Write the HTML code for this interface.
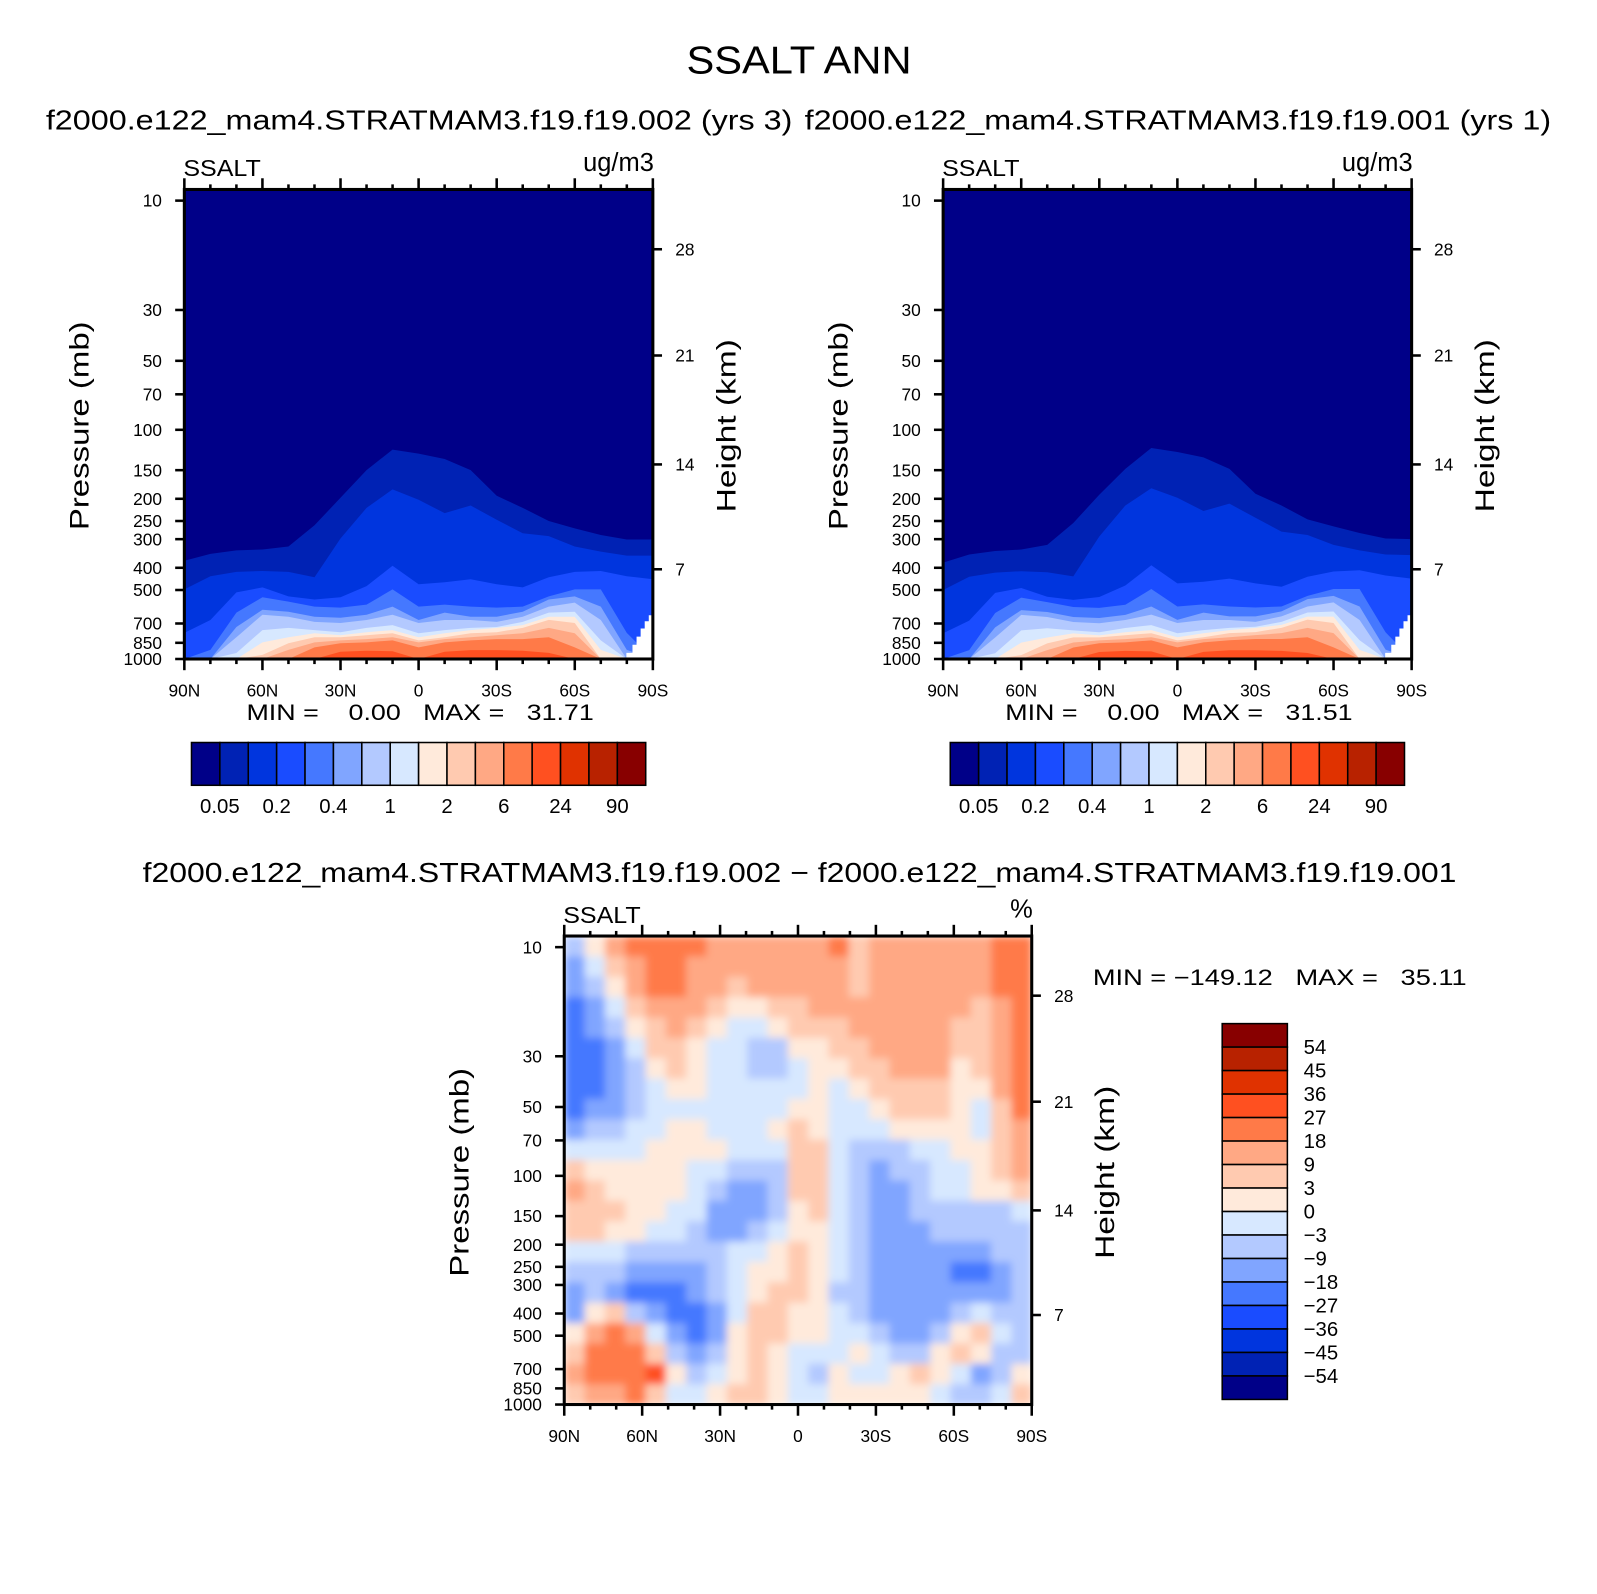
<!DOCTYPE html>
<html><head><meta charset="utf-8"><title>SSALT ANN</title>
<style>
html,body{margin:0;padding:0;background:#fff;}
svg{display:block;font-family:"Liberation Sans",sans-serif;}
text{fill:#000;}
</style></head>
<body>
<svg id="fig" xmlns="http://www.w3.org/2000/svg" width="1597" height="1594" viewBox="0 0 1568 1565">
<defs>
<filter id="soft" x="0" y="0" width="1" height="1"><feGaussianBlur stdDeviation="4" edgeMode="duplicate"/></filter>
<clipPath id="diffclip"><rect x="554" y="919" width="459" height="460"/></clipPath>
</defs>
<rect x="0" y="0" width="1568" height="1565" fill="#fff"/>
<text x="674" y="72" font-size="38" textLength="221" lengthAdjust="spacingAndGlyphs">SSALT ANN</text>
<text x="45" y="127" font-size="27" textLength="733" lengthAdjust="spacingAndGlyphs">f2000.e122_mam4.STRATMAM3.f19.f19.002 (yrs 3)</text>
<text x="790" y="127" font-size="27" textLength="733" lengthAdjust="spacingAndGlyphs">f2000.e122_mam4.STRATMAM3.f19.f19.001 (yrs 1)</text>
<text x="140" y="866" font-size="27" textLength="1290" lengthAdjust="spacingAndGlyphs">f2000.e122_mam4.STRATMAM3.f19.f19.002 − f2000.e122_mam4.STRATMAM3.f19.f19.001</text>
</svg>
<script>
// ---------- data ----------
const colors = ["#000088","#0022B4","#0035DE","#1A4CFF","#4578FF","#80A5FF","#B3C9FF","#D7E8FF","#FFEADB","#FFCAB0","#FFA884","#FF7A48","#FF5020","#E03200","#B82200","#880000"];
const absLevelLabels = ["0.05","","0.2","","0.4","","1","","2","","6","","24","","90"];
const diffLevelLabels = ["54","45","36","27","18","9","3","0","−3","−9","−18","−27","−36","−45","−54"];
const pressureTicks = [10,30,50,70,100,150,200,250,300,400,500,700,850,1000];
const heightTickLabels = ["7","14","21","28"];
const heightTickPressures = [406,141.6,47.4,16.3];
const latTicks = [90,60,30,0,-30,-60,-90];
const latTickLabels = ["90N","60N","30N","0","30S","60S","90S"];
const boundaryLats = [90,80,70,60,50,40,30,20,10,0,-10,-20,-30,-40,-50,-60,-70,-80,-90];
// pressure (mb) where the field crosses each contour level, per latitude (case .002)
const caseABoundaries = [
 [373,348,336,333,323,261,198,150,122,127,134,150,194,219,250,269,288,301,301],
 [497,435,417,413,417,440,298,219,182,202,231,214,247,283,291,323,340,354,354],
 [769,676,512,487,533,550,538,481,392,472,463,449,472,487,440,417,413,435,449],
 [1100,913,628,538,562,591,597,579,497,591,579,591,597,591,533,497,497,769,1100],
 [1100,1100,725,610,622,654,661,641,591,676,628,654,654,622,550,533,591,913,1100],
 [1100,1100,804,641,654,689,697,676,641,697,676,676,689,654,591,567,676,1100,1100],
 [1100,1100,941,748,732,748,764,732,711,772,748,732,725,689,628,622,829,1100,1100],
 [1100,1100,1100,846,804,772,788,764,748,804,772,748,732,711,654,654,913,1100,1100],
 [1100,1100,1100,960,853,804,804,788,772,829,804,772,764,732,675,697,1100,1100,1100],
 [1100,1100,1100,1100,913,846,829,819,804,846,819,804,788,772,732,772,1100,1100,1100],
 [1100,1100,1100,1100,1100,890,853,846,829,890,846,829,819,819,804,890,1100,1100,1100],
 [1100,1100,1100,1100,1100,1100,930,920,925,1100,930,915,915,920,940,1100,1100,1100,1100]
];
// case .001
const caseBBoundaries = [
 [380,350,338,333,318,255,192,148,120,125,132,148,190,214,246,264,282,298,300],
 [500,438,420,414,418,436,292,214,180,198,226,210,242,278,288,318,336,350,352],
 [772,680,515,490,535,552,536,478,390,468,460,446,468,484,438,415,410,432,446],
 [1100,915,630,540,565,593,598,580,495,590,578,590,596,590,530,495,495,765,1100],
 [1100,1100,728,612,624,656,662,642,590,675,628,652,652,620,548,530,590,910,1100],
 [1100,1100,806,642,656,690,698,676,640,696,676,676,688,652,590,566,676,1100,1100],
 [1100,1100,943,750,734,750,765,733,711,772,748,731,724,688,627,621,828,1100,1100],
 [1100,1100,1100,848,806,773,789,764,748,804,772,748,731,710,653,653,912,1100,1100],
 [1100,1100,1100,962,855,805,805,788,772,829,804,771,763,731,674,696,1100,1100,1100],
 [1100,1100,1100,1100,915,847,829,819,804,846,819,803,787,771,731,771,1100,1100,1100],
 [1100,1100,1100,1100,1100,891,854,846,829,890,846,828,818,818,803,890,1100,1100,1100],
 [1100,1100,1100,1100,1100,1100,932,921,926,1100,931,916,916,921,941,1100,1100,1100,1100]
];
// difference field (%) as contour class per cell: rows top(10mb)->bottom(1000mb), cols 90N->90S
const diffClassRows = [
 "68abbbbaaaaaab9aaaaaabb",
 "579abbaaaaaaaa9aaaaaabb",
 "568abbaa9aaaaa9aaaaaabb",
 "4579aaa98899aaaaaaaa9ab",
 "45689a98778999aaaaa99ab",
 "445799877668899aaaa99ab",
 "4456898776678899aaa89ab",
 "445678877777878999988ab",
 "4556777777788778999879b",
 "5667788777898777888879a",
 "7777888877799766677889a",
 "9888887766699765667789a",
 "a9888876556997655677889",
 "99988775556897655666667",
 "99887765567887655566666",
 "77766666778987655555566",
 "66655556788987655554456",
 "56544456789986655555556",
 "58965445799887655556766",
 "8aba7545899887765568976",
 "9bbb9656898777876689866",
 "abbbc867898768778987568",
 "9aab9778998778888876679"
];
const diffLatCount = 23;
const absMinMax = ["MIN =    0.00   MAX =   31.71","MIN =    0.00   MAX =   31.51"];
const diffMinMax = "MIN = −149.12   MAX =   35.11";

// ---------- helpers ----------
const NS = "http://www.w3.org/2000/svg";
const svg = document.getElementById("fig");
const PTOP = 8.94;
function mk(tag, attrs, parent){const e=document.createElementNS(NS,tag);for(const k in attrs)e.setAttribute(k,attrs[k]);(parent||svg).appendChild(e);return e;}
function yScale(y0,h){return p=>y0+h-(3-Math.log10(Math.min(p,1000)))/(3-Math.log10(PTOP))*h;}
function xScale(x0,w){return lat=>x0+(90-lat)/180*w;}
function parseRow(s){return s.replace(/\s/g,"").split("").map(c=>parseInt(c,16));}

function axes(g,x0,y0,w,h,leftLabel,rightLabel){
  const X=xScale(x0,w),Y=yScale(y0,h);
  for(let lat=90;lat>=-90;lat-=10){
    const major=(lat%30===0);
    const len=major?11:5;
    const t1=mk("line",{x1:X(lat),x2:X(lat),y1:y0,y2:y0-len,stroke:"#000","stroke-width":2.5},g);
    
    
    const t2=mk("line",{x1:X(lat),x2:X(lat),y1:y0+h,y2:y0+h+len,stroke:"#000","stroke-width":2.5},g);
    
    
  }
  latTicks.forEach((lat,i)=>{
    const t=mk("text",{x:X(lat),y:y0+h+37,"font-size":17,"text-anchor":"middle"},g);
    t.textContent=latTickLabels[i];
    
    
  });
  pressureTicks.forEach(p=>{
    const y=Y(p);
    const l=mk("line",{x1:x0,x2:x0-9,y1:y,y2:y,stroke:"#000","stroke-width":2.5},g);
    
    
    const t=mk("text",{x:x0-22,y:y+6,"font-size":17,"text-anchor":"end"},g);
    t.textContent=String(p);
    
    
  });
  heightTickPressures.forEach((p,i)=>{
    const y=Y(p);
    const l=mk("line",{x1:x0+w,x2:x0+w+9,y1:y,y2:y,stroke:"#000","stroke-width":2.5},g);
    
    
    const t=mk("text",{x:x0+w+22,y:y+6,"font-size":17},g);
    t.textContent=heightTickLabels[i];
    
    
  });
  const fr=mk("rect",{x:x0,y:y0,width:w,height:h,fill:"none",stroke:"#000","stroke-width":3},g);
  
  
  const cy=y0+232;
  const pt=mk("text",{x:x0-94,y:cy,"font-size":26,"text-anchor":"middle",transform:`rotate(-90 ${x0-94} ${cy})`,textLength:205,lengthAdjust:"spacingAndGlyphs"},g);
  pt.textContent="Pressure (mb)";
  
  
  const ht=mk("text",{x:x0+w+81,y:cy,"font-size":26,"text-anchor":"middle",transform:`rotate(-90 ${x0+w+81} ${cy})`,textLength:170,lengthAdjust:"spacingAndGlyphs"},g);
  ht.textContent="Height (km)";
  
  
  const ll=mk("text",{x:x0-1,y:y0-13,"font-size":23,textLength:76,lengthAdjust:"spacingAndGlyphs"},g);
  ll.textContent=leftLabel;
  
  
  const rl=mk("text",{x:x0+w+1,y:y0-18,"font-size":25,"text-anchor":"end"},g);
  rl.textContent=rightLabel;
  
  
}

function absPanel(x0,y0,w,h,bounds,minmax,name){
  const g=mk("g",{});
  
  
  const X=xScale(x0,w),Y=yScale(y0,h);
  const bg=mk("rect",{x:x0,y:y0,width:w,height:h,fill:colors[0]},g);
  
  
  bounds.forEach((row,k)=>{
    let d=`M${X(boundaryLats[0])},${y0+h}`;
    row.forEach((p,i)=>{d+=` L${X(boundaryLats[i]).toFixed(1)},${Y(p).toFixed(1)}`;});
    d+=` L${X(boundaryLats[boundaryLats.length-1])},${y0+h} Z`;
    const path=mk("path",{d:d,fill:colors[k+1],"stroke-linejoin":"round"},g);
    
    
  });
  const x1=x0+w,yb=y0+h;
  const miss=mk("path",{d:`M${x1},${yb-43} L${x1-4},${yb-43} L${x1-4},${yb-37} L${x1-8},${yb-37} L${x1-8},${yb-30} L${x1-12},${yb-30} L${x1-12},${yb-22} L${x1-16},${yb-22} L${x1-16},${yb-14} L${x1-20},${yb-14} L${x1-20},${yb-6} L${x1-26},${yb-6} L${x1-26},${yb-1} L${x1-60},${yb-1} L${x1-60},${yb} L${x1},${yb} Z`,fill:"#fff"},g);
  
  
  axes(g,x0,y0,w,h,"SSALT","ug/m3");
  const mm=mk("text",{x:x0+61,y:y0+h+60,"font-size":22,textLength:341,lengthAdjust:"spacingAndGlyphs"},g);
  mm.textContent=minmax;
  mm.style.whiteSpace="pre";
  
  
  const cx=x0+7,cw=446,cyy=y0+h+82,ch=42,bw=cw/16;
  const cb=mk("g",{},g);
  
  
  colors.forEach((c,i)=>{
    const r=mk("rect",{x:cx+i*bw,y:cyy,width:bw,height:ch,fill:c,stroke:"#000","stroke-width":1.5},cb);
    
    
  });
  absLevelLabels.forEach((s,i)=>{
    if(!s)return;
    const t=mk("text",{x:cx+(i+1)*bw,y:cyy+ch+27,"font-size":20,"text-anchor":"middle"},cb);
    t.textContent=s;
    
    
  });
}

absPanel(181,186,460,461,caseABoundaries,absMinMax[0],"panel-case-002");
absPanel(926,186,460,461,caseBBoundaries,absMinMax[1],"panel-case-001");

// difference panel
(function(){
  const x0=554,y0=919,w=459,h=460;
  const g=mk("g",{});
  
  
  const clipG=mk("g",{"clip-path":"url(#diffclip)"},g);
  
  
  const cells=mk("g",{filter:"url(#soft)"},clipG);
  
  
  const rows=diffClassRows.map(parseRow);
  const nr=rows.length,cw=w/diffLatCount,rh=h/nr;
  rows.forEach((row,r)=>{
    for(let c=0;c<diffLatCount;c++){
      const v=row[Math.min(c,row.length-1)];
      const cell=mk("rect",{x:(x0+c*cw).toFixed(2),y:(y0+r*rh).toFixed(2),width:(cw+0.6).toFixed(2),height:(rh+0.6).toFixed(2),fill:colors[v]},cells);
      
      
    }
  });
  axes(g,x0,y0,w,h,"SSALT","%");
  const mm=mk("text",{x:1073,y:967,"font-size":22,textLength:367,lengthAdjust:"spacingAndGlyphs"},g);
  mm.textContent=diffMinMax;
  mm.style.whiteSpace="pre";
  
  
  const cb=mk("g",{},g);
  
  
  const bx=1200,by=1005,bw=64,bh=369/16;
  for(let i=0;i<16;i++){
    const r=mk("rect",{x:bx,y:by+i*bh,width:bw,height:bh,fill:colors[15-i],stroke:"#000","stroke-width":1.5},cb);
    
    
  }
  diffLevelLabels.forEach((s,i)=>{
    const t=mk("text",{x:1280,y:by+(i+1)*bh+7,"font-size":20},cb);
    t.textContent=s;
    
    
  });
})();
</script>
</body></html>
